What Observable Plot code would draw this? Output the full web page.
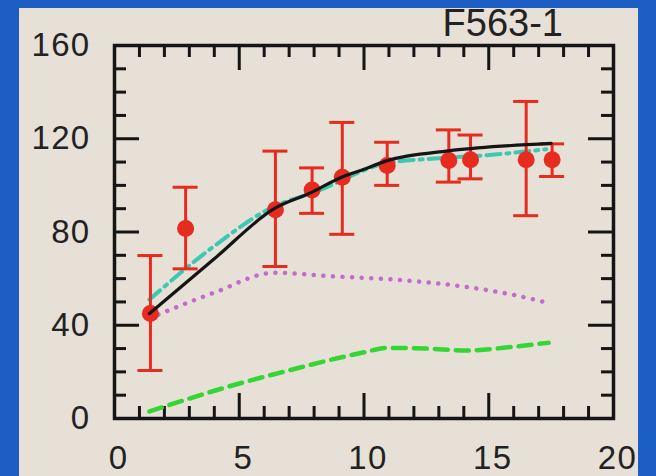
<!DOCTYPE html>
<html>
<head>
<meta charset="utf-8">
<script src="https://cdn.jsdelivr.net/npm/d3@7"></script>
<script src="https://cdn.jsdelivr.net/npm/@observablehq/plot@0.6"></script>
<style>
  html, body { margin: 0; padding: 0; }
  body { width: 656px; height: 476px; overflow: hidden; background: #1d5ec4; position: relative; font-family: "Liberation Sans", Arial, sans-serif; }
  #panel { position: absolute; left: 19px; top: 8px; width: 619px; height: 468px; background: #e6e0d6; overflow: hidden; }
  #title { position: absolute; top: 2px; right: 93px; font-size: 38px; line-height: normal; color: #222; z-index: 2; white-space: nowrap; }
  #panel svg { position: absolute; left: 0; top: 0; }
</style>
</head>
<body>
<div id="panel"></div>
<div id="title">F563-1</div>
<script>
// Observed rotation curve points
const radius = [1.44, 2.85, 6.45, 7.92, 9.13, 10.93, 13.4, 14.27, 16.5, 17.54];
const vObs   = [45, 81.5, 89.5, 98, 103.5, 108.5, 110.7, 111, 111, 111];
const vLow   = [20.6, 64.2, 65.2, 88, 79, 100, 101.4, 102.8, 87, 103.8];
const vHigh  = [69.9, 99.2, 114.7, 107.5, 127, 118.5, 123.8, 121.6, 136, 117.8];

// Model curves
const totalR = [1.4, 4.0, 6.4, 7.9, 9.1, 9.9, 10.9, 13.4, 15.5, 17.5];
const totalV = [45, 68.5, 90, 97, 103.5, 106.5, 110.5, 114.8, 116.8, 118];
const haloR  = [1.4, 4.0, 6.4, 8.0, 10.9, 12.8, 15.0, 17.3];
const haloV  = [51, 74, 91, 97, 109.5, 111.5, 113, 115.5];
const diskR  = [1.4, 4.0, 6.4, 8.7, 11.3, 14.0, 16.0, 17.4];
const diskV  = [43, 54, 62.5, 61, 59.5, 56.6, 53, 49.5];
const gasR   = [1.4, 5.0, 6.4, 10.0, 10.9, 12.5, 14.1, 16.0, 17.4];
const gasV   = [3, 15, 19, 28.4, 30.3, 30, 29.2, 30.8, 32.5];

// Axis ticks
const xLabels = [0, 5, 10, 15, 20];
const xMajor = [5, 10, 15];
const xMinor = [1,2,3,4,6,7,8,9,11,12,13,14,16,17,18,19];
const yLabels = [0, 40, 80, 120, 160];
const yMajor = [40, 80, 120];
const yMinor = [10,20,30,50,60,70,90,100,110,130,140,150];

const W = 619, H = 468;
const mL = 95, mR = 25, mT = 37, mB = 58;
const pw = W - mL - mR, ph = H - mT - mB;
const minorLen = 12, majorLen = 25;
const ink = "#151515";
const red = "#e62b1f";

const obs = radius.map((r, i) => ({r, v: vObs[i], lo: vLow[i], hi: vHigh[i]}));
const zip = (R, V) => R.map((r, i) => ({r, v: V[i]}));

const chart = Plot.plot({
  width: W, height: H,
  marginLeft: mL, marginRight: mR, marginTop: mT, marginBottom: mB,
  x: {domain: [0, 20]},
  y: {domain: [0, 160]},
  style: {background: "transparent", fontFamily: "'Liberation Sans', Arial, sans-serif", fontSize: "33px", color: "#222", overflow: "visible", letterSpacing: "1.3px"},
  marks: [
    // inward ticks
    Plot.ruleX(xMinor, {x: d => d, insetTop: ph - minorLen, stroke: ink, strokeWidth: 3}),
    Plot.ruleX(xMinor, {x: d => d, insetBottom: ph - minorLen, stroke: ink, strokeWidth: 3}),
    Plot.ruleX(xMajor, {x: d => d, insetTop: ph - majorLen, stroke: ink, strokeWidth: 3}),
    Plot.ruleX(xMajor, {x: d => d, insetBottom: ph - majorLen, stroke: ink, strokeWidth: 3}),
    Plot.ruleY(yMinor, {y: d => d, insetRight: pw - minorLen, stroke: ink, strokeWidth: 3}),
    Plot.ruleY(yMinor, {y: d => d, insetLeft: pw - minorLen, stroke: ink, strokeWidth: 3}),
    Plot.ruleY(yMajor, {y: d => d, insetRight: pw - majorLen, stroke: ink, strokeWidth: 3}),
    Plot.ruleY(yMajor, {y: d => d, insetLeft: pw - majorLen, stroke: ink, strokeWidth: 3}),
    Plot.axisX({ticks: xLabels, tickSize: 0, tickPadding: 27, dx: 4, label: null}),
    Plot.axisY({ticks: yLabels, tickSize: 0, tickPadding: 24, label: null}),
    // model curves
    Plot.line(zip(diskR, diskV), {x: "r", y: "v", stroke: "#c46ccb", strokeWidth: 4.5, strokeDasharray: "0.1,9.5", strokeLinecap: "round", curve: "monotone-x"}),
    Plot.line(zip(gasR, gasV), {x: "r", y: "v", stroke: "#33d633", strokeWidth: 4.5, strokeDasharray: "13,8", curve: "monotone-x"}),
    Plot.line(zip(haloR, haloV), {x: "r", y: "v", stroke: "#3cc8b2", strokeWidth: 4, strokeDasharray: "14,6,3,6", curve: "monotone-x"}),
    // observations
    Plot.ruleX(obs, {x: "r", y1: "lo", y2: "hi", stroke: red, strokeWidth: 3}),
    Plot.ruleY(obs, {y: "hi", x1: "r", x2: "r", insetLeft: -12.5, insetRight: -12.5, stroke: red, strokeWidth: 3}),
    Plot.ruleY(obs, {y: "lo", x1: "r", x2: "r", insetLeft: -12.5, insetRight: -12.5, stroke: red, strokeWidth: 3}),
    Plot.dot(obs, {x: "r", y: "v", r: 8.5, fill: red, stroke: "none"}),
    Plot.line(zip(totalR, totalV), {x: "r", y: "v", stroke: ink, strokeWidth: 3.2, curve: "monotone-x"}),
    Plot.frame({stroke: ink, strokeWidth: 3.5})
  ]
});
document.getElementById("panel").appendChild(chart);
</script>
</body>
</html>
